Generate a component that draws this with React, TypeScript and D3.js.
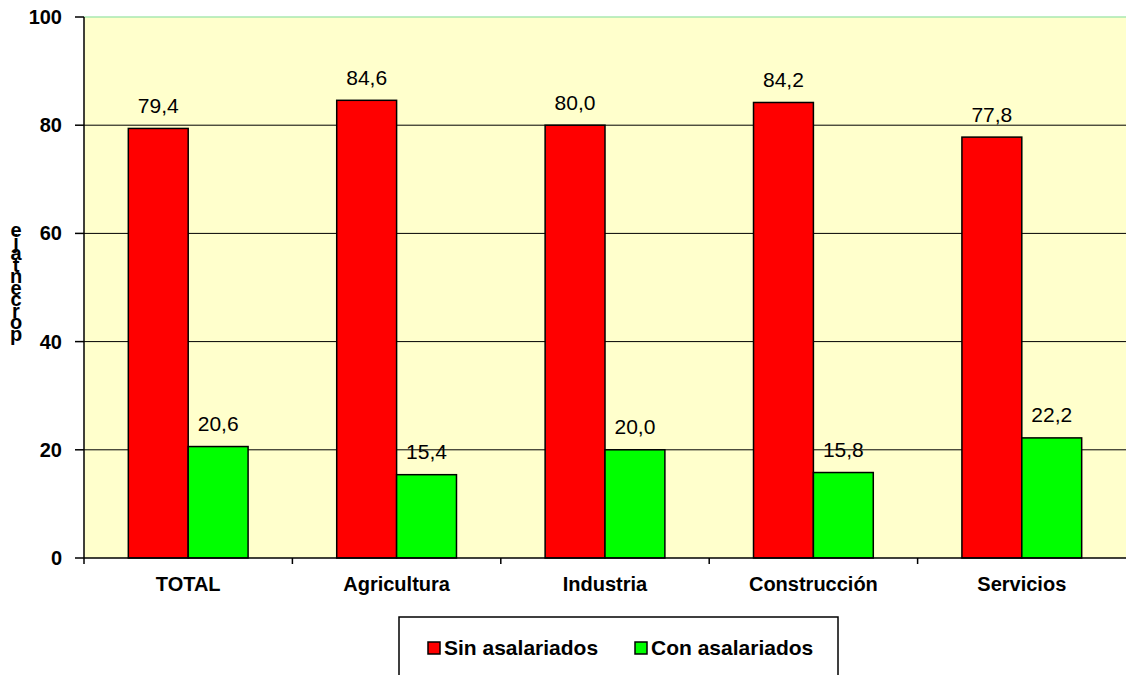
import React from "react";
import * as d3 from "d3";

const categories = ["TOTAL", "Agricultura", "Industria", "Construcción", "Servicios"];
const sinAsalariados = [79.4, 84.6, 80.0, 84.2, 77.8];
const conAsalariados = [20.6, 15.4, 20.0, 15.8, 22.2];
const seriesNames = ["Sin asalariados", "Con asalariados"];
const yTicks = [0, 20, 40, 60, 80, 100];
const yLabel = "porcentaje";

const W = 1126;
const H = 675;
const left = 84;
const right = 1126;
const top = 17;
const bottom = 558;
const colors = ["#FF0000", "#00FF00"];
const font = "'Liberation Sans', Arial, sans-serif";

export default function App() {
  const x = d3.scaleBand<string>().domain(categories).range([left, right]).padding(0);
  const inner = d3.scaleBand<number>().domain([0, 1]).range([0, x.bandwidth()]).paddingOuter(0.74).paddingInner(0);
  const y = d3.scaleLinear().domain([0, 100]).range([bottom, top]);
  const series = [sinAsalariados, conAsalariados];
  const fmt = (v: number) => v.toFixed(1).replace(".", ",");
  const letters = yLabel.split("").reverse();

  return (
    <svg width={W} height={H} style={{ position: "absolute", left: 0, top: 0, background: "#fff" }} fontFamily={font}>
      <rect x={left} y={top} width={right - left} height={bottom - top} fill="#FFFFCC" />
      {yTicks.filter(t => t > 0 && t < 100).map(t => (
        <line key={t} x1={left} x2={right} y1={y(t)} y2={y(t)} stroke="#000" strokeWidth={1} />
      ))}
      <line x1={left} x2={right} y1={y(100)} y2={y(100)} stroke="#A8E8B0" strokeWidth={1.5} />
      {series.map((vals, si) =>
        categories.map((c, i) => {
          const bx = (x(c) as number) + (inner(si) as number);
          const bw = inner.bandwidth();
          return (
            <g key={c + si}>
              <rect x={bx} y={y(vals[i])} width={bw} height={bottom - y(vals[i])} fill={colors[si]} stroke="#000" strokeWidth={1.5} />
              <text x={bx + bw / 2} y={y(vals[i]) - 15.5} textAnchor="middle" fontSize={21} fill="#000">{fmt(vals[i])}</text>
            </g>
          );
        })
      )}
      <line x1={left} x2={left} y1={top} y2={bottom} stroke="#000" strokeWidth={1.5} />
      <line x1={left} x2={right} y1={bottom} y2={bottom} stroke="#000" strokeWidth={1.5} />
      {yTicks.map(t => (
        <g key={t}>
          <line x1={left - 9} x2={left} y1={y(t)} y2={y(t)} stroke="#000" strokeWidth={1.5} />
          <text x={62} y={y(t) + 7} textAnchor="end" fontSize={20} fontWeight="bold">{t}</text>
        </g>
      ))}
      {categories.map((c, i) => (
        <g key={c}>
          <line x1={x(c) as number} x2={x(c) as number} y1={bottom} y2={bottom + 6} stroke="#000" strokeWidth={1.5} />
          <text x={(x(c) as number) + x.bandwidth() / 2} y={591} textAnchor="middle" fontSize={20} fontWeight="bold">{c}</text>
        </g>
      ))}
      <text x={16} y={237} textAnchor="middle" fontSize={20} fontWeight="bold">
        {letters.map((l, i) => (
          <tspan key={i} x={16} y={237 + i * 11.5}>{l}</tspan>
        ))}
      </text>
      <rect x={399} y={617} width={439} height={70} fill="#fff" stroke="#000" strokeWidth={1.5} />
      {seriesNames.map((s, i) => {
        const lx = i === 0 ? 428 : 635;
        return (
          <g key={s}>
            <rect x={lx} y={642} width={12} height={12} fill={colors[i]} stroke="#000" strokeWidth={1.5} />
            <text x={lx + 16} y={655} fontSize={21} fontWeight="bold">{s}</text>
          </g>
        );
      })}
    </svg>
  );
}
